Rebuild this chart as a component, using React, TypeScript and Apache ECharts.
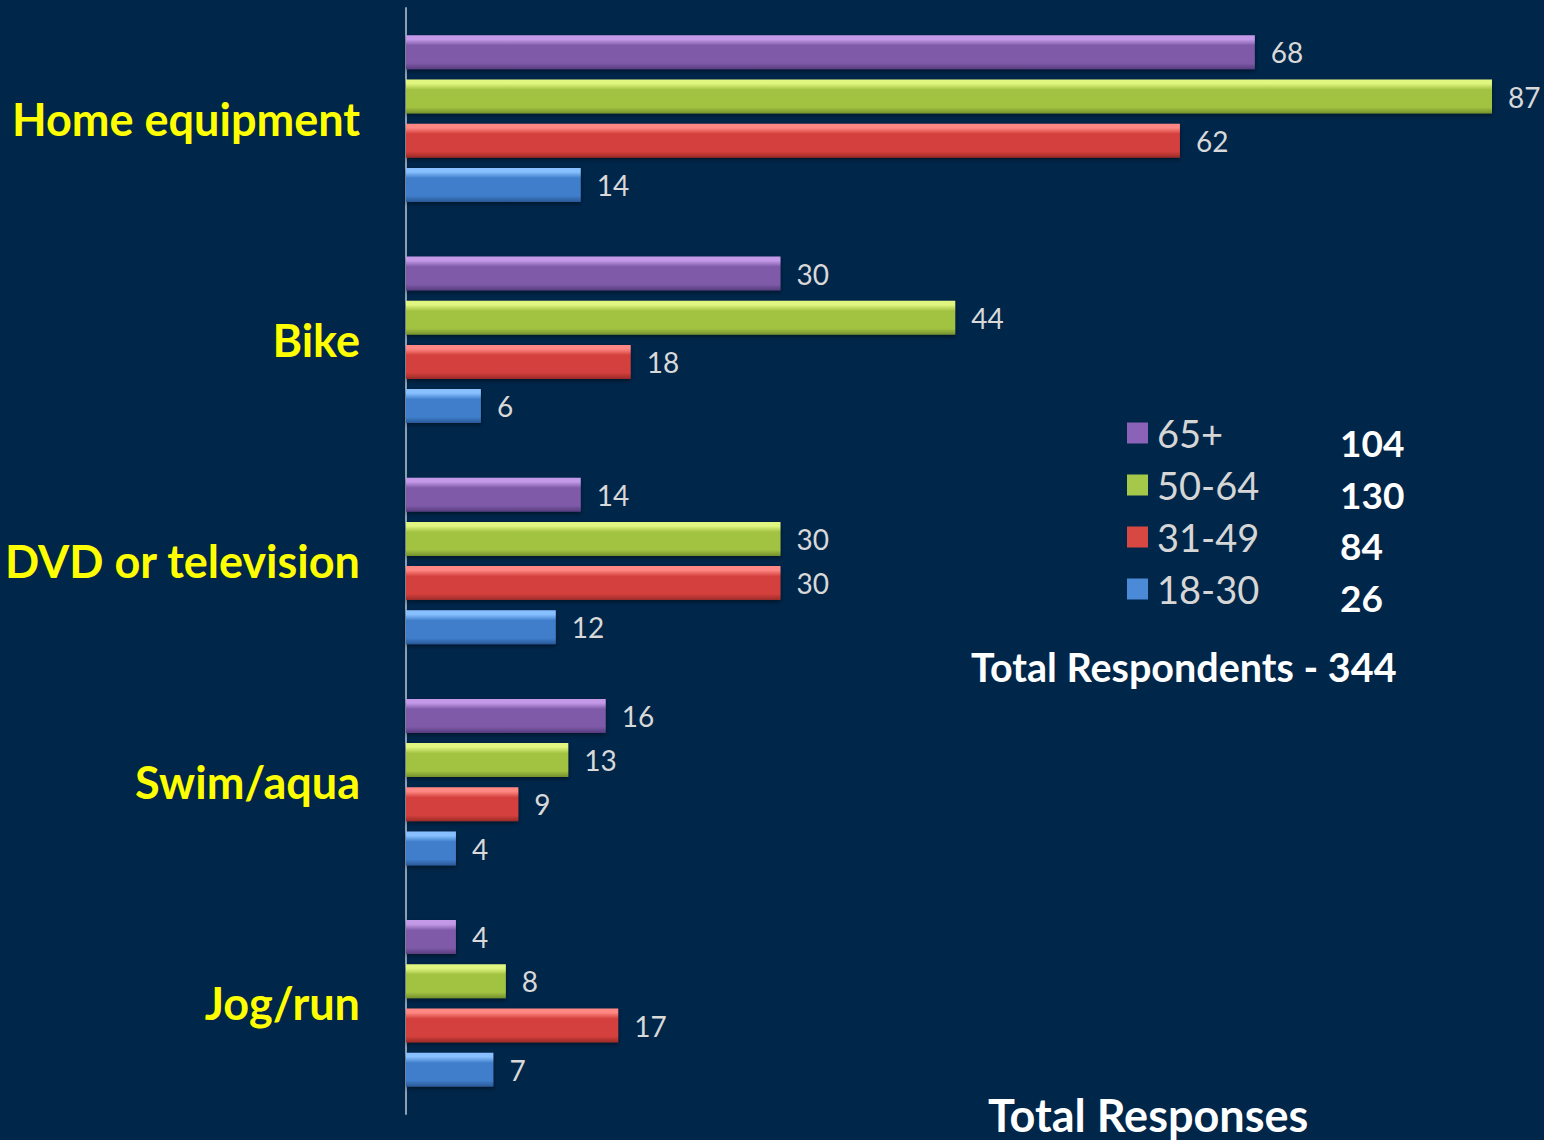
import React, { useEffect, useRef } from "react";
import * as echarts from "echarts";

const categories = ["Home equipment", "Bike", "DVD or television", "Swim/aqua", "Jog/run"];
const seriesNames = ["65+", "50-64", "31-49", "18-30"];
const values65 = [68, 30, 14, 16, 4];
const values50 = [87, 44, 30, 13, 8];
const values31 = [62, 18, 30, 9, 17];
const values18 = [14, 6, 12, 4, 7];
const groupTotals = [104, 130, 84, 26];
const totalRespondents = 344;

const grad = (top: string, mid: string, bottom: string) =>
  new echarts.graphic.LinearGradient(0, 0, 0, 1, [
    { offset: 0, color: top },
    { offset: 0.12, color: top },
    { offset: 0.3, color: mid },
    { offset: 0.82, color: mid },
    { offset: 1, color: bottom },
  ]);

const palette = [
  { top: "#c49ae8", mid: "#7e5aa8", bottom: "#583c7e", legend: "#8a62b8" },
  { top: "#e0f680", mid: "#a2c242", bottom: "#74902c", legend: "#a6c84a" },
  { top: "#ff8884", mid: "#d4403c", bottom: "#9a2a28", legend: "#d84842" },
  { top: "#88c0ff", mid: "#3f7ecb", bottom: "#2a5896", legend: "#4a8ad6" },
];

export default function App() {
  const ref = useRef<HTMLDivElement>(null);
  useEffect(() => {
    if (!ref.current) return;
    const chart = echarts.init(ref.current, null, { renderer: "svg" });
    const allValues = [values65, values50, values31, values18];
    const font = "Lato, 'Open Sans', sans-serif";
    chart.setOption({
      animation: false,
      backgroundColor: "#00264a",
      textStyle: { fontFamily: font },
      grid: { left: 406, right: 52, top: 8, bottom: 26, containLabel: false },
      xAxis: {
        type: "value",
        min: 0,
        max: 87,
        show: false,
        splitLine: { show: false },
      },
      yAxis: {
        type: "category",
        data: categories,
        inverse: true,
        axisLine: { show: true, lineStyle: { color: "#8f9fb3", width: 2 } },
        axisTick: { show: false },
        axisLabel: {
          color: "#ffff00",
          fontWeight: "bold",
          fontSize: 45,
          fontFamily: font,
          margin: 46,
        },
      },
      legend: {
        orient: "vertical",
        left: 1122,
        top: 409,
        itemWidth: 21,
        itemHeight: 21,
        itemGap: 14,
        textStyle: { color: "#d6d6d6", fontSize: 38, fontFamily: font, padding: [0, 0, 0, 4] },
        data: seriesNames.map((n, i) => ({
          name: n,
          icon: "rect",
          itemStyle: { color: palette[i].legend },
        })),
      },
      series: seriesNames.map((name, i) => ({
        name,
        type: "bar",
        data: allValues[i],
        barWidth: 34,
        barGap: "30%",
        itemStyle: {
          color: grad(palette[i].top, palette[i].mid, palette[i].bottom),
          shadowColor: "rgba(0,0,0,0.45)",
          shadowBlur: 4,
          shadowOffsetY: 2,
        },
        label: {
          show: true,
          position: "right",
          distance: 16,
          color: "#d9d9d9",
          fontSize: 28,
          fontFamily: font,
        },
      })),
      graphic: [
        ...groupTotals.map((t, i) => ({
          type: "text",
          left: 1340,
          top: 424 + i * 51.5,
          style: {
            text: String(t),
            fill: "#ffffff",
            font: `bold 37px ${font}`,
          },
        })),
        {
          type: "text",
          left: 971,
          top: 646,
          style: {
            text: `Total Respondents - ${totalRespondents}`,
            fill: "#ffffff",
            font: `bold 39.5px ${font}`,
          },
        },
        {
          type: "text",
          left: 988,
          top: 1092,
          style: {
            text: "Total Responses",
            fill: "#ffffff",
            font: `bold 45px ${font}`,
          },
        },
      ],
    });
    return () => chart.dispose();
  }, []);
  return (
    <div
      ref={ref}
      style={{ position: "fixed", left: 0, top: 0, width: 1544, height: 1140 }}
    />
  );
}
